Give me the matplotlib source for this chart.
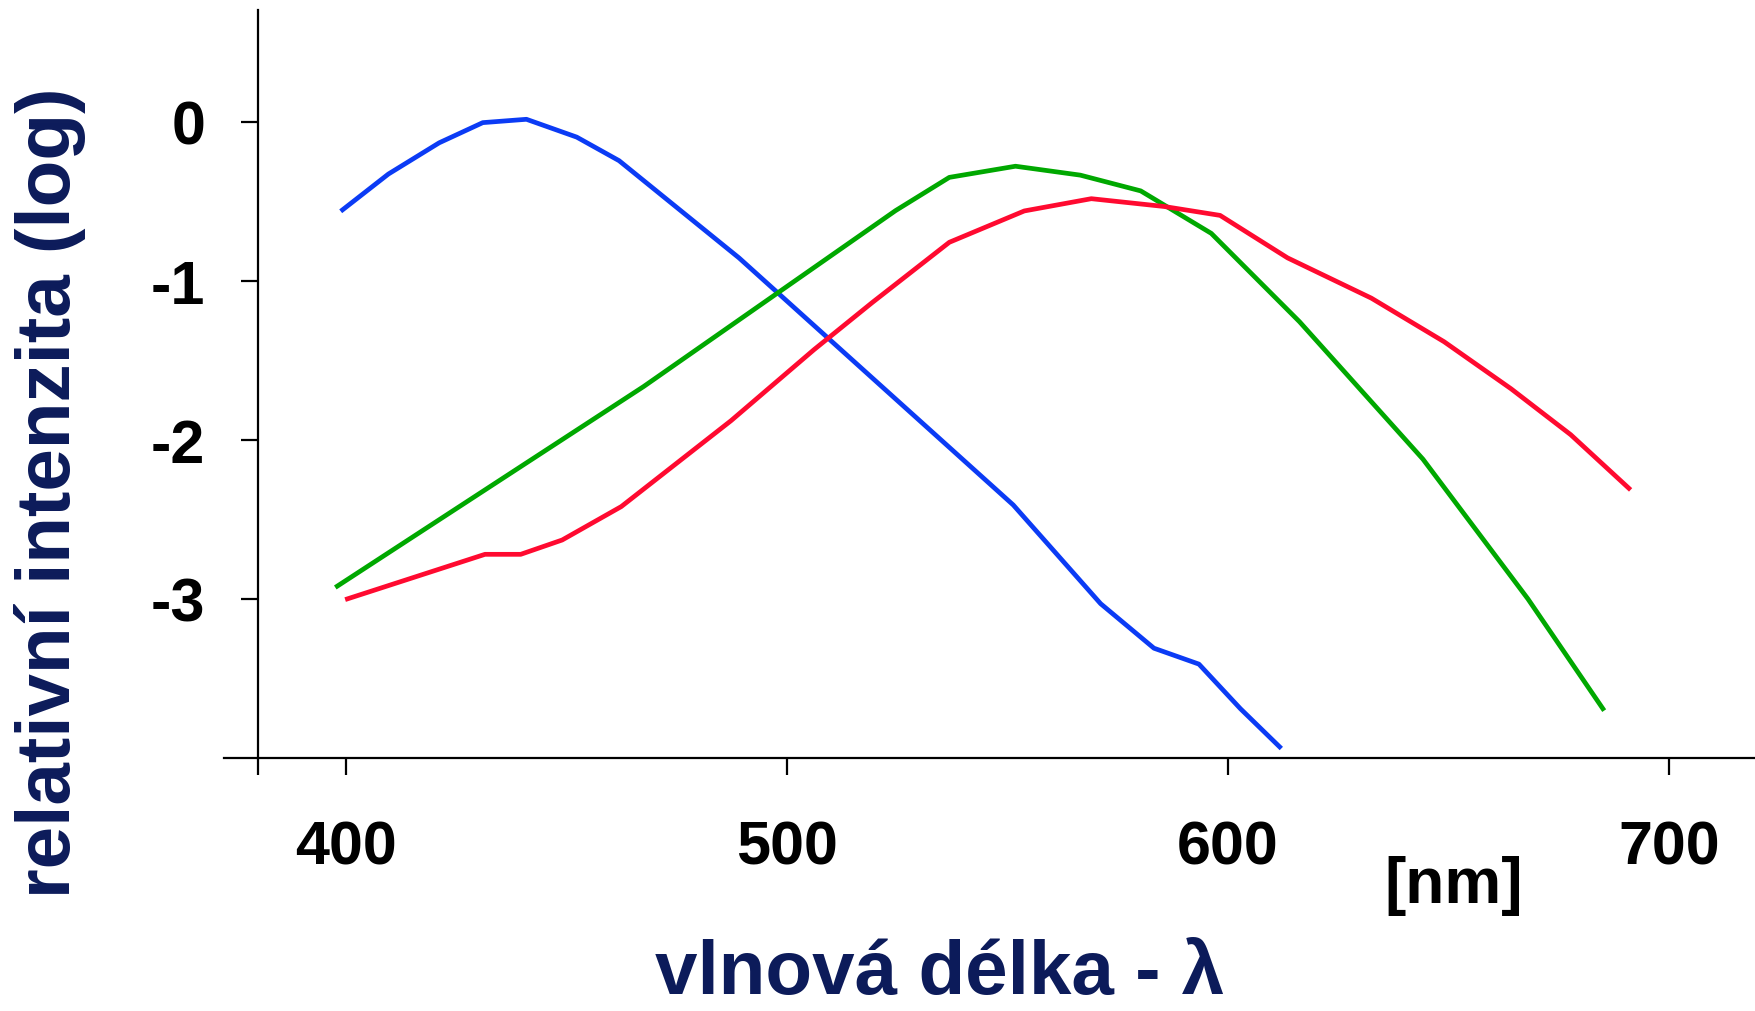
import numpy as np
import matplotlib
matplotlib.use("Agg")
import matplotlib.pyplot as plt

plt.rcParams['font.family'] = ['Liberation Sans', 'DejaVu Sans']

# wavelength [nm] and log relative intensity
blue_x = [399.2, 409.6, 421.1, 431.0, 440.9, 452.3, 461.9, 489.1, 551.3, 571.1, 583.2, 593.4, 602.8, 611.7]
blue_y = [-0.555, -0.33, -0.134, -0.007, 0.014, -0.098, -0.246, -0.857, -2.41, -3.03, -3.31, -3.41, -3.69, -3.93]

green_x = [398.0, 467.5, 524.6, 536.8, 551.8, 566.5, 580.2, 596.2, 616.2, 644.2, 668.0, 685.0]
green_y = [-2.92, -1.665, -0.56, -0.351, -0.281, -0.337, -0.436, -0.703, -1.258, -2.122, -3.0, -3.69]

red_x = [400.3, 431.5, 439.6, 449.0, 462.4, 487.3, 506.1, 519.3, 536.8, 553.8, 569.0, 585.5,
         598.2, 613.5, 632.5, 649.0, 664.2, 677.7, 690.9]
red_y = [-3.0, -2.72, -2.72, -2.63, -2.42, -1.88, -1.434, -1.138, -0.759, -0.562, -0.485, -0.534,
         -0.59, -0.857, -1.11, -1.384, -1.68, -1.968, -2.305]

x_ticks = [380, 400, 500, 600, 700]
x_labels = ['', '400', '500', '600', '700']
y_ticks = [0, -1, -2, -3]
y_labels = ['0', '-1', '-2', '-3']

fig = plt.figure(figsize=(17.55, 10.12), dpi=100)
ax = fig.add_axes([0.1276, 0.25, 0.8724, 0.739])

ax.plot(blue_x, blue_y, color='#0b3bf5', lw=3.4)
ax.plot(green_x, green_y, color='#00a800', lw=3.4)
ax.plot(red_x, red_y, color='#ff0a30', lw=3.4)

ax.set_xlim(372.3, 719.5)
ax.set_ylim(-4.0, 0.7)

ax.spines['top'].set_visible(False)
ax.spines['right'].set_visible(False)
ax.spines['left'].set_position(('data', 380))
for s in ['left', 'bottom']:
    ax.spines[s].set_linewidth(1.6)

ax.set_xticks(x_ticks)
ax.set_xticklabels(x_labels)
ax.set_yticks(y_ticks)
ax.set_yticklabels(y_labels)
ax.tick_params(axis='x', length=12, width=1.6, pad=32, labelsize=44)
ax.tick_params(axis='y', length=12, width=1.6, pad=26, labelsize=44)
for lab in ax.get_xticklabels() + ax.get_yticklabels():
    lab.set_fontweight('bold')

fig.text(0.0285, 0.513, "relativní intenzita (log)", rotation=90, ha='center', va='center',
         fontsize=55, fontweight='bold', color='#0c1b5a')
fig.text(0.5356, 0.002, "vlnová délka - λ", ha='center', va='bottom',
         fontsize=55, fontweight='bold', color='#0c1b5a')
fig.text(0.8285, 0.108, "[nm]", ha='center', va='baseline',
         fontsize=46, fontweight='bold', color='black')

plt.savefig("out.png", dpi=100)
